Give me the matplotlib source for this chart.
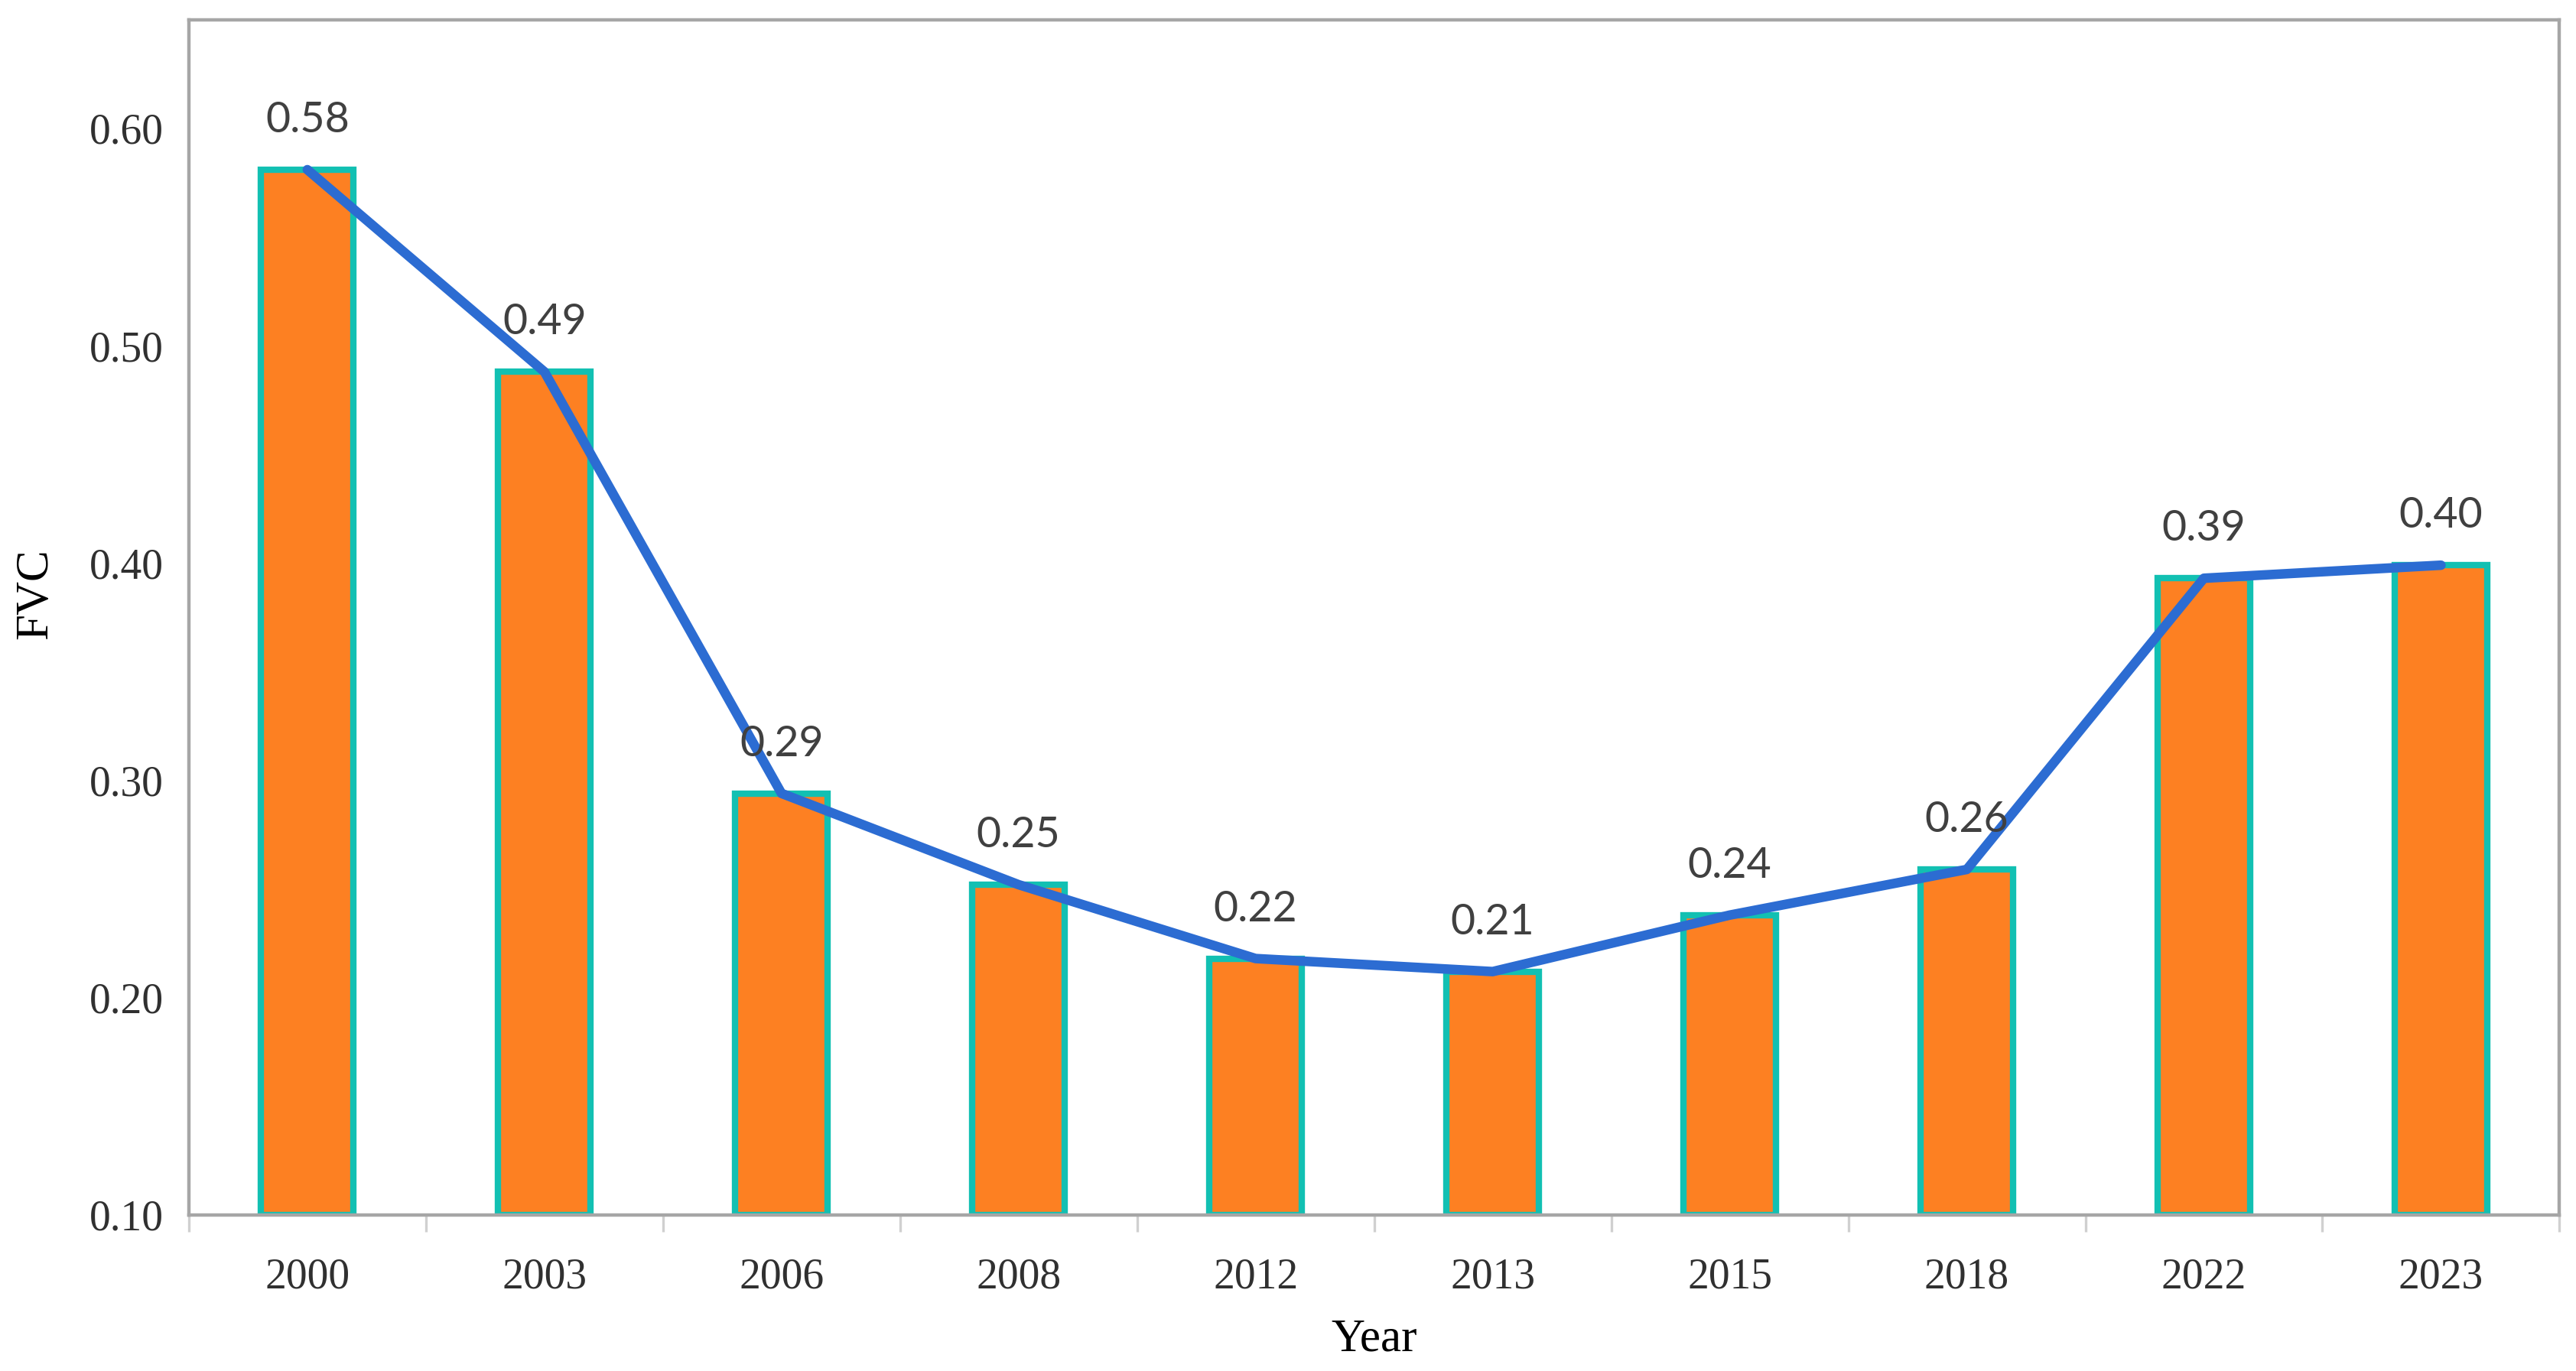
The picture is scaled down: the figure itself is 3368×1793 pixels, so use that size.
import matplotlib.pyplot as plt
import numpy as np

# ----------------------------
# DATA
# ----------------------------
years = ["2000", "2003", "2006", "2008", "2012", "2013", "2015", "2018", "2022", "2023"]
fvc = [0.581, 0.488, 0.294, 0.252, 0.218, 0.212, 0.238, 0.259, 0.393, 0.399]
labels = ["0.58", "0.49", "0.29", "0.25", "0.22", "0.21", "0.24", "0.26", "0.39", "0.40"]

# ----------------------------
# PLOT
# ----------------------------
fig = plt.figure(figsize=(16.84, 8.965), dpi=200)
ax = fig.add_axes([0.0733, 0.1138, 0.9203, 0.8718])

x = np.arange(len(years))
base = 0.10
heights = [v - base for v in fvc]

ax.bar(x, heights, bottom=base, width=0.39, color="#FD8022",
       edgecolor="#12C0B2", linewidth=3.0, zorder=2)
ax.plot(x, fvc, color="#2C6CD2", linewidth=4.5, zorder=3,
        solid_joinstyle="round", solid_capstyle="round")

for xi, v, lab in zip(x, fvc, labels):
    ax.annotate(lab, (xi, v), xytext=(0, 14), textcoords="offset points",
                ha="center", va="bottom", fontsize=20, color="#404040",
                family="Lato")

ax.set_xlim(-0.5, len(years) - 0.5)
ax.set_ylim(0.10, 0.65)
ax.set_yticks([0.10, 0.20, 0.30, 0.40, 0.50, 0.60])
ax.set_yticklabels([f"{t:.2f}" for t in ax.get_yticks()],
                   family="Liberation Serif", fontsize=20, color="#303030")
ax.set_xticks(x)
ax.set_xticklabels(years, family="Liberation Serif", fontsize=20, color="#303030")
ax.set_xticks(np.arange(-0.5, len(years)), minor=True)

ax.tick_params(axis="x", which="major", length=0, pad=20)
ax.tick_params(axis="x", which="minor", length=8, width=1.2, color="#D0D0D0")
ax.tick_params(axis="y", length=0, pad=12)

for s in ax.spines.values():
    s.set_color("#A6A6A6")
    s.set_linewidth(1.6)

ax.set_xlabel("Year", family="Liberation Serif", fontsize=22, labelpad=10)
ax.set_ylabel("FVC", family="Liberation Serif", fontsize=22, va="center")
ax.yaxis.set_label_coords(-0.0645, 0.52)

fig.savefig("out.png", dpi=200)
